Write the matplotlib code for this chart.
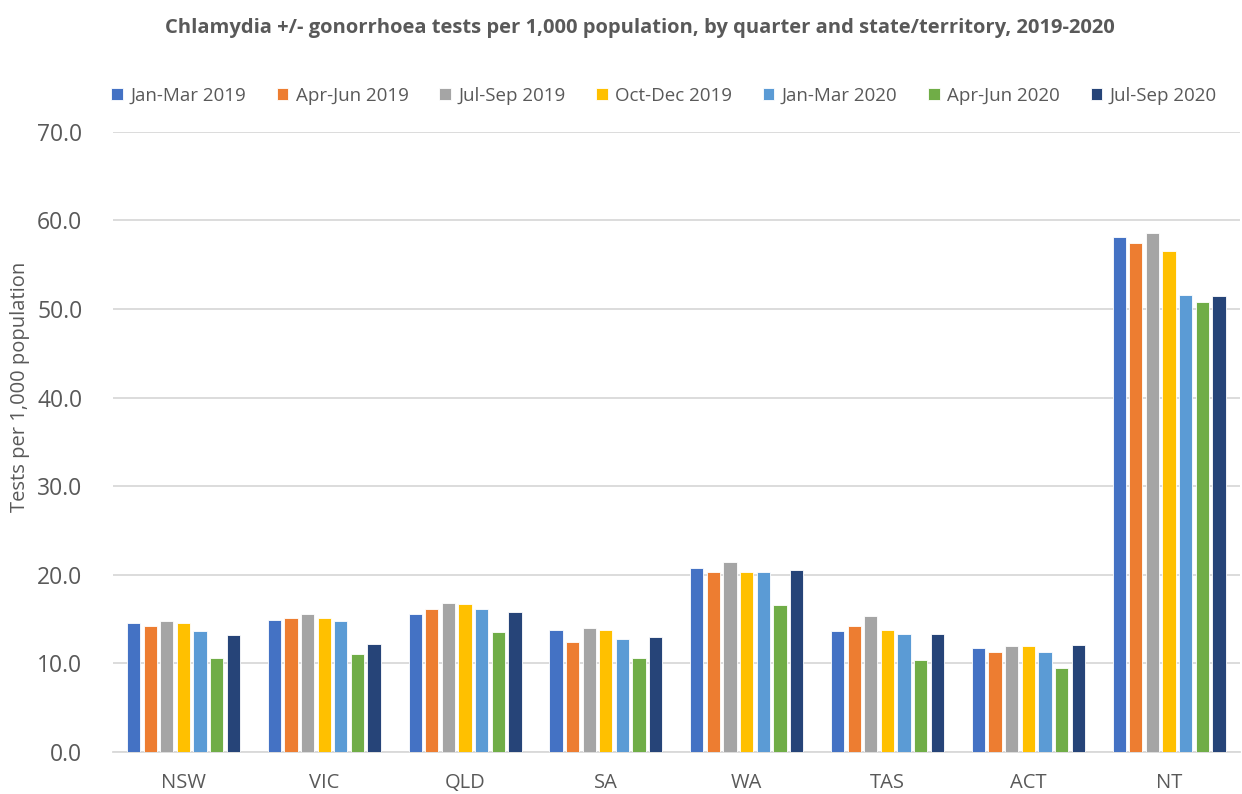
import numpy as np
import matplotlib.pyplot as plt

plt.rcParams['font.family'] = ['Open Sans', 'DejaVu Sans']

states = ['NSW', 'VIC', 'QLD', 'SA', 'WA', 'TAS', 'ACT', 'NT']
quarters = ['Jan-Mar 2019', 'Apr-Jun 2019', 'Jul-Sep 2019', 'Oct-Dec 2019',
            'Jan-Mar 2020', 'Apr-Jun 2020', 'Jul-Sep 2020']
colors = ['#4472C4', '#ED7D31', '#A5A5A5', '#FFC000', '#5B9BD5', '#70AD47', '#264478']

# tests per 1,000 population, one list per quarter (order follows states)
jan_mar_2019 = [14.5, 14.9, 15.6, 13.8, 20.8, 13.6, 11.7, 58.1]
apr_jun_2019 = [14.2, 15.1, 16.1, 12.4, 20.3, 14.2, 11.3, 57.5]
jul_sep_2019 = [14.8, 15.6, 16.8, 14.0, 21.4, 15.3, 12.0, 58.6]
oct_dec_2019 = [14.6, 15.1, 16.7, 13.8, 20.3, 13.8, 12.0, 56.6]
jan_mar_2020 = [13.7, 14.8, 16.1, 12.7, 20.3, 13.3, 11.3, 51.6]
apr_jun_2020 = [10.6, 11.0, 13.5, 10.6, 16.6, 10.4, 9.5, 50.8]
jul_sep_2020 = [13.2, 12.2, 15.8, 13.0, 20.5, 13.3, 12.1, 51.5]

series = [jan_mar_2019, apr_jun_2019, jul_sep_2019, oct_dec_2019,
          jan_mar_2020, apr_jun_2020, jul_sep_2020]

fig = plt.figure(figsize=(12.42, 7.94), dpi=100)
ax = fig.add_axes([0.091, 0.053, 0.907, 0.781])

x = np.arange(len(states))
slot = 0.118
for i, (vals, q, c) in enumerate(zip(series, quarters, colors)):
    ax.bar(x + (i - 3) * slot, vals, width=0.094, color=c, label=q,
           edgecolor='white', linewidth=0.6, zorder=3)

ax.set_xlim(-0.5, 7.5)
ax.set_ylim(0, 70)
ax.set_yticks(np.arange(0, 71, 10))
ax.set_yticklabels([f'{v:.1f}' for v in np.arange(0, 71, 10)])
ax.set_xticks(x)
ax.set_xticklabels(states)
ax.tick_params(axis='y', length=0, labelsize=16.5, labelcolor='#595959', pad=22)
ax.tick_params(axis='x', length=0, labelsize=14.5, labelcolor='#595959', pad=15)
ax.grid(axis='y', color='#d9d9d9', linewidth=1.3, zorder=0)
for s in ['top', 'right', 'left']:
    ax.spines[s].set_visible(False)
ax.spines['bottom'].set_color('#d9d9d9')
ax.spines['bottom'].set_linewidth(1.3)

fig.text(20 / 1242, 1 - 387 / 794, 'Tests per 1,000 population', rotation=90,
         ha='center', va='center', fontsize=14.5, color='#595959')
fig.text(640 / 1242, 1 - 28 / 794,
         'Chlamydia +/- gonorrhoea tests per 1,000 population, by quarter and state/territory, 2019-2020',
         ha='center', va='center', fontsize=14.5, fontweight='bold', color='#595959')

fig.legend(loc='center', bbox_to_anchor=(664 / 1242, 1 - 96 / 794), ncol=7,
           frameon=False, fontsize=13.5, handlelength=0.6, handleheight=0.6,
           handletextpad=0.4, columnspacing=1.65, labelcolor='#595959')

fig.savefig('out.png', dpi=100)
